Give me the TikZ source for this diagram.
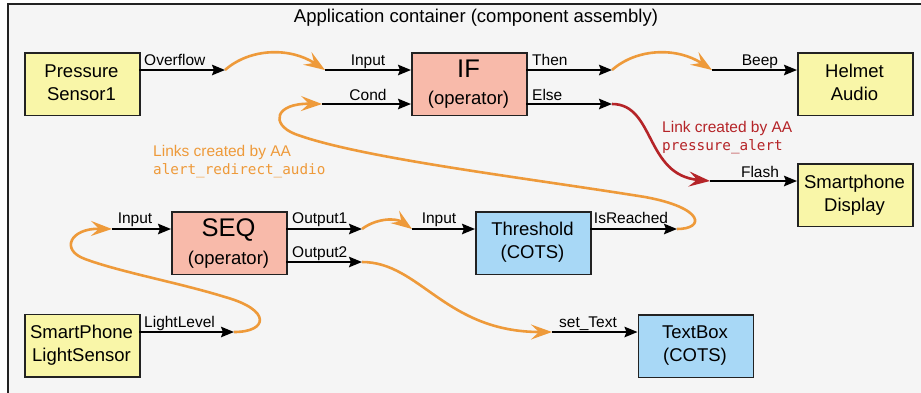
\documentclass[tikz,border=0pt]{standalone}
\usepackage{fontspec}
\setmainfont{Liberation Sans}
\newfontfamily\codefont{DejaVu Sans Mono}
\usetikzlibrary{arrows.meta}
\definecolor{bgc}{HTML}{F5F5F5}
\definecolor{yelc}{HTML}{F9F6A8}
\definecolor{salc}{HTML}{F8BAAA}
\definecolor{bluc}{HTML}{A8D8F6}
\definecolor{orac}{HTML}{EE9A3A}
\definecolor{redc}{HTML}{B52428}
\definecolor{framec}{HTML}{222222}
\tikzset{
  box/.style={draw=framec, line width=1.5pt, minimum width=115pt, minimum height=62.5pt, inner sep=0pt, anchor=north west},
  yel/.style={fill=yelc},
  sal/.style={fill=salc},
  blu/.style={fill=bluc},
  txt/.style={font=\fontsize{18.5}{22}\selectfont, anchor=base, inner sep=0pt},
  bigtxt/.style={font=\fontsize{25.5}{28}\selectfont, anchor=base, inner sep=0pt},
  lbl/.style={font=\fontsize{15.5}{18}\selectfont, anchor=base, inner sep=0pt},
  lblw/.style={lbl, anchor=base west},
  port/.style={-{Stealth[length=13pt,width=10.5pt,inset=2pt]}, line width=1.8pt, black},
  olink/.style={-{Stealth[length=21pt,width=15pt,inset=8pt]}, line width=2.6pt, orac},
  rlink/.style={-{Stealth[length=21pt,width=15pt,inset=8pt]}, line width=2.6pt, redc},
  ann/.style={font=\fontsize{15.5}{18}\selectfont, anchor=base west, inner sep=0pt},
  code/.style={font=\codefont\fontsize{14.3}{18}\selectfont, anchor=base west, inner sep=0pt}
}
\begin{document}
\begin{tikzpicture}[x=1pt,y=-1pt]
\useasboundingbox (0,0) rectangle (921,392);
\fill[white] (0,0) rectangle (921,392);
\draw[fill=bgc, draw=framec, line width=1.5pt] (8,4) rectangle (944,400);
\node[txt] (title) at (476,22.5) {Application container (component assembly)};

% boxes
\node[box,yel] (ps) at (24,52) {};
\node[txt] (ps1) at (81.5,77) {Pressure};
\node[txt] (ps2) at (81.5,100) {Sensor1};

\node[box,sal] (if) at (411,52) {};
\node[bigtxt] (if1) at (468.5,77.3) {IF};
\node[txt] (if2) at (468.5,104) {(operator)};

\node[box,yel] (ha) at (797,52) {};
\node[txt] (ha1) at (854.5,77) {Helmet};
\node[txt] (ha2) at (854.5,100) {Audio};

\node[box,yel] (sd) at (797,163) {};
\node[txt] (sd1) at (854.5,188) {Smartphone};
\node[txt] (sd2) at (854.5,211) {Display};

\node[box,sal] (seq) at (171,211) {};
\node[bigtxt] (seq1) at (228.5,236.7) {SEQ};
\node[txt] (seq2) at (228.5,264) {(operator)};

\node[box,blu] (th) at (475,211) {};
\node[txt] (th1) at (532.5,235.5) {Threshold};
\node[txt] (th2) at (532.5,258.5) {(COTS)};

\node[box,yel] (ls) at (24,313.5) {};
\node[txt] (ls1) at (81.5,338) {SmartPhone};
\node[txt] (ls2) at (81.5,361) {LightSensor};

\node[box,blu] (tb) at (637.5,314) {};
\node[txt] (tb1) at (695,338.5) {TextBox};
\node[txt] (tb2) at (695,361.5) {(COTS)};

% port coordinates
\coordinate (ovfA) at (139,70);   \coordinate (ovfB) at (225,70);
\coordinate (inA) at (325,70);    \coordinate (inB) at (411,70);
\coordinate (condA) at (322,104); \coordinate (condB) at (411,104);
\coordinate (thenA) at (526,70);  \coordinate (thenB) at (612,70);
\coordinate (elseA) at (526,104); \coordinate (elseB) at (612,104);
\coordinate (beepA) at (712,70);  \coordinate (beepB) at (797,70);
\coordinate (flashA) at (710,181);\coordinate (flashB) at (797,181);
\coordinate (seqinA) at (112,229);\coordinate (seqinB) at (171,229);
\coordinate (o1A) at (286,229);   \coordinate (o1B) at (362,229);
\coordinate (o2A) at (286,262);   \coordinate (o2B) at (362,262);
\coordinate (thinA) at (412,229); \coordinate (thinB) at (475,229);
\coordinate (isrA) at (590,229);  \coordinate (isrB) at (677,229);
\coordinate (llA) at (139,332);   \coordinate (llB) at (234,332);
\coordinate (stA) at (552,332);   \coordinate (stB) at (637.5,332);

% black port arrows
\draw[port] (ovfA) -- (ovfB);
\draw[port] (inA) -- (inB);
\draw[port] (condA) -- (condB);
\draw[port] (thenA) -- (thenB);
\draw[port] (elseA) -- (elseB);
\draw[port] (beepA) -- (beepB);
\draw[port] (flashA) -- (flashB);
\draw[port] (seqinA) -- (seqinB);
\draw[port] (o1A) -- (o1B);
\draw[port] (o2A) -- (o2B);
\draw[port] (thinA) -- (thinB);
\draw[port] (isrA) -- (isrB);
\draw[port] (llA) -- (llB);
\draw[port] (stA) -- (stB);

% port labels
\node[lblw] (l-ovf) at (144,65) {Overflow};
\node[lbl] (l-in) at (368,65) {Input};
\node[lbl] (l-cond) at (368,100) {Cond};
\node[lblw] (l-then) at (532,65) {Then};
\node[lblw] (l-else) at (532,100) {Else};
\node[lbl] (l-beep) at (760,65) {Beep};
\node[lbl] (l-flash) at (760,177) {Flash};
\node[lbl] (l-seqin) at (135,223) {Input};
\node[lblw] (l-o1) at (292,223) {Output1};
\node[lblw] (l-o2) at (292,257) {Output2};
\node[lbl] (l-thin) at (439,223) {Input};
\node[lbl] (l-isr) at (631,223) {IsReached};
\node[lbl] (l-st) at (588,327) {set\_Text};
\node[lblw] (l-ll) at (144,327) {LightLevel};

% orange links
\draw[olink] (ovfB) .. controls (250,48) and (290,47) .. (inA);
\draw[olink] (thenB) .. controls (637,48) and (677,47) .. (beepA);
\draw[olink] (o1B) .. controls (375,219) and (395,217) .. (thinA);
\draw[olink] (o2B) .. controls (420,262) and (445,332) .. (stA);
\draw[olink] (isrB) .. controls (705,229) and (705,208) .. (645,197)
  .. controls (520,177) and (360,158) .. (295,134)
  .. controls (270,124) and (275,103) .. (condA);
\draw[olink] (llB) .. controls (268,332) and (272,310) .. (225,297)
  .. controls (180,283) and (120,272) .. (85,259)
  .. controls (60,250) and (70,228) .. (seqinA);

% red link
\draw[rlink] (elseB) .. controls (655,104) and (645,175) .. (flashA);

% annotations
\node[ann, text=redc] (rt1) at (662,132) {Link created by AA};
\node[code, text=redc] (rt2) at (662,150.5) {pressure\_alert};
\node[ann, text=orac] (ot1) at (153,156) {Links created by AA};
\node[code, text=orac] (ot2) at (153,174) {alert\_redirect\_audio};
\end{tikzpicture}
\end{document}
